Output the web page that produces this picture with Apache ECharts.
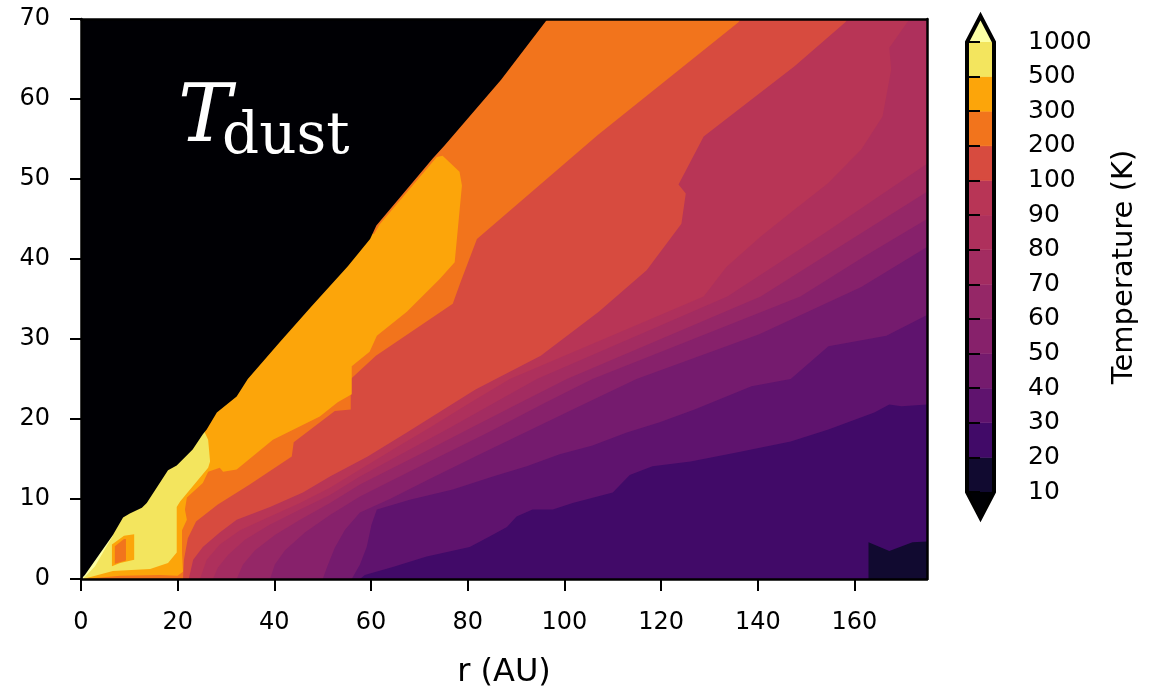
<!DOCTYPE html>
<html><head><meta charset="utf-8">
<script src="https://cdn.jsdelivr.net/npm/echarts@6/dist/echarts.min.js"></script>
<style>html,body{margin:0;padding:0;background:#fff}#c{width:1168px;height:691px}</style>
</head><body><div id="c"></div>
<script>
// ---- axis ticks / levels ----
const xTicks = [0, 20, 40, 60, 80, 100, 120, 140, 160];
const yTicks = [0, 10, 20, 30, 40, 50, 60, 70];
const rMax = 175, zMax = 70;
const levelLabels = ['10','20','30','40','50','60','70','80','90','100','200','300','500','1000'];
// colours: under, 10-20, 20-30, ..., 500-1000, over (inferno)
const bandColors = ['#000004','#110a30','#410a68','#5f136e','#751b6e','#87216b','#952767',
  '#a32c61','#ae305c','#b83556','#d74b3f','#f2741c','#fca50a','#f3e55e','#fcffa4'];

// ---- contour lines (r [AU], z [AU]) ----
const line20 = [[162.9,0],[162.9,4.6],[167.2,3.5],[172.0,4.6],[175,4.7]];
const line30 = [[57.7,0],[58.7,0.5],[64.5,1.5],[71.5,2.8],[80.4,4.0],[84.5,5.3],[88.1,6.5],[90.1,7.8],
  [93.4,8.7],[97.6,8.7],[101.7,9.5],[110.0,10.8],[113.5,13.0],[118.2,14.1],[126.1,14.7],[135.6,15.8],
  [146.8,17.2],[154.6,18.7],[164.1,20.8],[167.2,21.8],[169.7,21.6],[175,21.8]];
const line40 = [[56.0,0],[57.7,1.8],[59.1,4.0],[60.1,6.8],[61.2,8.7],[68.0,9.9],[76.9,11.2],[85.2,12.8],
  [92.2,14.1],[99.0,15.6],[105.8,16.7],[112.9,18.3],[119.7,19.6],[126.9,21.2],[138.7,24.1],[146.8,25.0],
  [154.6,29.1],[166.6,30.4],[175,33.0]];
const line50 = [[50.0,0],[51.1,1.8],[52.5,3.9],[54.6,6.15],[57.7,8.3],[63.9,10.0],[72.1,12.5],[82.5,15.6],
  [92.8,18.6],[103.1,21.6],[114.9,25.0],[140.3,30.6],[161.4,36.5],[175,41.5]];
const line60 = [[39.1,0],[40.1,1.8],[42.2,3.6],[46.3,5.8],[51.5,8.0],[57.7,10.3],[72.1,14.7],[84.5,18.4],
  [95.9,22.0],[105.8,25.0],[148.8,35.3],[162.0,40.3],[175,45.0]];
const line70 = [[32.2,0],[33.5,1.8],[36.0,3.6],[40.1,5.5],[45.3,7.4],[51.5,9.5],[57.7,11.8],[70.1,15.6],
  [80.4,18.8],[90.7,22.0],[100.5,25.0],[140.6,35.3],[157.9,41.9],[175,48.4]];
const line80 = [[27.3,0],[28.3,1.4],[30.4,3.0],[33.9,4.9],[39.1,6.8],[45.3,8.7],[51.5,10.5],[57.7,12.8],
  [68.0,16.2],[76.3,18.9],[84.5,21.7],[94.3,25.0],[133.7,35.3],[154.0,43.3],[175,51.9]];
const line90 = [[24.6,0],[26.0,2.4],[28.7,4.3],[32.9,6.1],[39.1,7.8],[45.3,9.5],[51.5,11.4],[57.7,13.7],
  [65.9,16.7],[72.1,18.9],[80.4,22.0],[88.7,25.0],[128.8,35.3],[133.5,39.0],[140.6,42.8],[147.6,46.2],
  [154.4,49.4],[161.4,53.7],[165.8,57.8],[167.6,63.7],[167.2,66.4],[171.4,70]];
const line100 = [[22.3,0],[23.2,2.4],[25.2,4.0],[28.7,5.8],[32.2,7.4],[39.1,9.0],[45.9,10.8],[51.5,12.8],
  [59.3,15.3],[67.4,18.3],[81.6,23.7],[95.1,27.9],[107.1,33.4],[117.0,38.6],[124.2,44.4],[125.1,48.2],
  [123.6,49.3],[128.8,55.3],[147.6,64.1],[158.1,69.6],[158.6,70]];
const line200 = [[21.1,0],[21.3,2.4],[22.1,5.1],[23.8,7.2],[28.3,9.3],[34.9,11.8],[43.6,15.3],[44.0,17.1],
  [52.5,21.0],[55.8,21.2],[55.8,25.0],[61.0,27.9],[76.9,34.4],[78.5,37.1],[81.9,42.5],[106.9,55.5],
  [136.0,69.6],[136.4,70]];
const line300 = [[0.6,0],[8.1,0.4],[16.3,0.5],[20.0,0.4],[21.1,0.9],[20.9,3.3],[20.9,6.1],[21.9,7.4],
  [21.5,8.7],[21.9,10.2],[25.2,12.0],[26.3,13.4],[28.7,13.9],[29.4,13.4],[32.2,13.7],[39.7,17.4],
  [49.4,20.3],[53.1,22.1],[56.0,23.1],[56.0,26.6],[59.7,28.4],[61.2,30.4],[67.4,33.4],[74.2,37.5],
  [77.3,39.6],[78.8,49.2],[78.3,50.9],[74.8,52.9],[73.6,52.75],[61.8,44.35],[60.6,43.1]];
const line500 = [[1.0,0.1],[6.6,1.0],[14.3,1.25],[18.0,2.0],[19.8,3.3],[19.8,9.0],[20.5,9.7],[26.3,13.9],
  [26.7,14.7],[26.3,17.4],[25.6,18.3]];
const line1000 = [[0.4,0],[2.9,1.6],[5.2,4.0],[6.6,5.4]];
// small cooler island inside the hot inner region
const island300 = [[6.4,4.3],[8.9,5.4],[11.0,5.6],[11.0,2.4],[8.1,2.0],[6.4,1.6]];
const island200 = [[7.0,4.1],[8.9,5.0],[9.3,5.0],[9.3,2.3],[7.0,1.9]];
// edge of the black (no data) region
const blackEdge = [[0,0],[0.8,0.5],[6.6,5.5],[8.7,7.7],[10.1,8.2],[12.6,8.9],[13.6,9.5],[18.0,13.6],
  [19.8,14.2],[23.1,16.2],[25.2,18.1],[26.0,18.7],[28.1,20.8],[32.2,22.8],[34.5,25.0],[41.1,29.6],
  [47.7,34.1],[55.2,39.1],[59.8,42.5],[61.1,44.2],[72.8,52.6],[75.2,54.2],[86.9,62.4],[96.5,70]];

// ---- build the filled regions (T >= level lies above/left of its line) ----
function closeRegion(line) {
  const pts = line.slice();
  if (pts[pts.length - 1][0] >= rMax) pts.push([rMax, zMax]);
  pts.push([0, zMax], [0, 0]);
  return pts;
}
const regionLines = [line20, line30, line40, line50, line60, line70, line80, line90,
  line100, line200, line300, line500, line1000];
const polys = [];
regionLines.forEach((ln, i) => polys.push({pts: closeRegion(ln), color: bandColors[i + 2]}));
polys.push({pts: island300, color: bandColors[12]});
polys.push({pts: island200, color: bandColors[11]});
polys.push({pts: blackEdge.concat([[0, zMax]]), color: bandColors[0]});

const fieldSeries = polys.map((p, k) => ({
  type: 'custom', xAxisIndex: 0, yAxisIndex: 0, clip: true, silent: true, z: 2 + k * 0.01,
  data: [[0, 0]],
  renderItem: (params, api) => ({
    type: 'polygon',
    shape: {points: p.pts.map(q => api.coord(q))},
    style: {fill: p.color}
  })
}));

// colour bar cells (index space 0..13) + extend arrows
const nInt = levelLabels.length - 1;
const cbCells = [];
for (let i = 0; i < nInt; i++) cbCells.push([i, i + 1, bandColors[i + 1]]);
const cbSeries = {
  type: 'custom', xAxisIndex: 2, yAxisIndex: 2, clip: false, silent: true, z: 5,
  data: cbCells.map((c, i) => [0, i]),
  renderItem: (params, api) => {
    const c = cbCells[params.dataIndex];
    const a = api.coord([0, c[0]]), b = api.coord([1, c[1]]);
    return {type: 'rect', shape: {x: a[0], y: b[1], width: b[0] - a[0], height: a[1] - b[1]},
      style: {fill: c[2], stroke: c[2], lineWidth: 0.5}};
  }
};
const arrowH = 0.75;
const cbArrows = {
  type: 'custom', xAxisIndex: 2, yAxisIndex: 2, clip: false, silent: true, z: 6,
  data: [[0, 0]],
  renderItem: (params, api) => {
    const top = [[0, nInt], [1, nInt], [0.5, nInt + arrowH]].map(q => api.coord(q));
    const bot = [[0, 0], [1, 0], [0.5, -arrowH]].map(q => api.coord(q));
    const out = [[0, 0], [0.5, -arrowH], [1, 0], [1, nInt], [0.5, nInt + arrowH], [0, nInt]].map(q => api.coord(q));
    return {type: 'group', children: [
      {type: 'polygon', shape: {points: top}, style: {fill: bandColors[14]}},
      {type: 'polygon', shape: {points: bot}, style: {fill: bandColors[0]}},
      {type: 'polygon', shape: {points: out}, style: {fill: 'none', stroke: '#000', lineWidth: 4, lineJoin: 'miter'}}
    ]};
  }
};

const txt = {color: '#000', fontFamily: 'DejaVu Sans', fontSize: 24};
const chart = echarts.init(document.getElementById('c'), null, {renderer: 'canvas'});
chart.setOption({
  animation: false,
  backgroundColor: '#fff',
  grid: [
    {left: 81, top: 19, width: 846, height: 560, show: true, backgroundColor: bandColors[1], borderWidth: 0,
     containLabel: false, outerBoundsMode: 'none'},
    {left: 967, top: 42, width: 27, height: 450, containLabel: false, outerBoundsMode: 'none'}
  ],
  xAxis: [
    {type: 'value', gridIndex: 0, min: 0, max: rMax, interval: 20, z: 10,
     name: 'r (AU)', nameLocation: 'middle', nameGap: 78,
     nameTextStyle: {color: '#000', fontFamily: 'DejaVu Sans', fontSize: 32},
     axisLine: {show: true, onZero: false, lineStyle: {color: '#000', width: 2.5}},
     axisTick: {show: true, length: 12, customValues: xTicks, lineStyle: {color: '#000', width: 2}},
     axisLabel: Object.assign({margin: 32, customValues: xTicks}, txt),
     splitLine: {show: false}},
    {type: 'value', gridIndex: 0, min: 0, max: rMax, position: 'top', z: 10,
     axisLine: {show: true, onZero: false, lineStyle: {color: '#000', width: 2.5}},
     axisTick: {show: false}, axisLabel: {show: false}, splitLine: {show: false}},
    {type: 'value', gridIndex: 1, min: 0, max: 1, show: false}
  ],
  yAxis: [
    {type: 'value', gridIndex: 0, min: 0, max: zMax, interval: 10, z: 10,
     axisLine: {show: true, onZero: false, lineStyle: {color: '#000', width: 2.5}},
     axisTick: {show: true, length: 11, customValues: yTicks, lineStyle: {color: '#000', width: 2}},
     axisLabel: Object.assign({margin: 31, customValues: yTicks}, txt),
     splitLine: {show: false}},
    {type: 'value', gridIndex: 0, min: 0, max: zMax, position: 'right', z: 10,
     axisLine: {show: true, onZero: false, lineStyle: {color: '#000', width: 2.5}},
     axisTick: {show: false}, axisLabel: {show: false}, splitLine: {show: false}},
    {type: 'value', gridIndex: 1, min: 0, max: nInt, interval: 1, position: 'right', z: 10,
     name: 'Temperature (K)', nameLocation: 'middle', nameRotate: 90, nameGap: 116,
     nameTextStyle: {color: '#000', fontFamily: 'DejaVu Sans', fontSize: 29},
     axisLine: {show: false},
     axisTick: {show: true, length: 13, lineStyle: {color: '#000', width: 2}},
     axisLabel: Object.assign({}, txt, {fontSize: 25, margin: 34, formatter: v => levelLabels[v]}),
     splitLine: {show: false}}
  ],
  graphic: [
    {type: 'text', left: 178, top: 80, z: 100, style: {text: 'T', font: 'italic 80px "DejaVu Serif"', fill: '#fff'}},
    {type: 'text', left: 222, top: 109, z: 100, style: {text: 'dust', font: '58px "DejaVu Serif"', fill: '#fff'}}
  ],
  series: fieldSeries.concat([cbSeries, cbArrows])
});
</script></body></html>
